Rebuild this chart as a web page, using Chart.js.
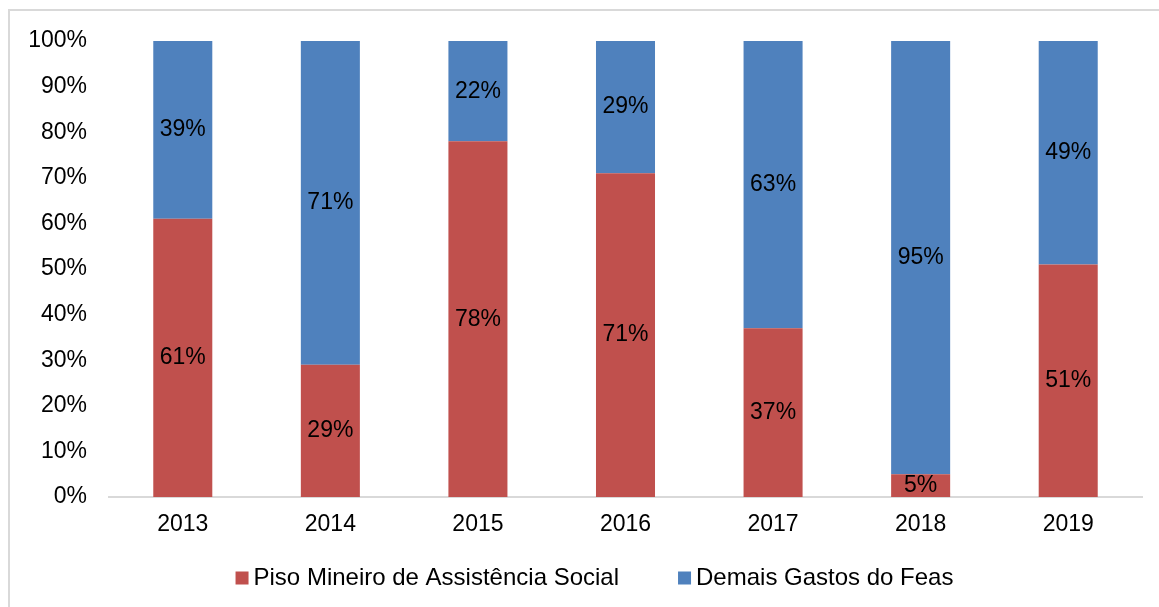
<!DOCTYPE html>
<html><head><meta charset="utf-8">
<script src="https://cdn.jsdelivr.net/npm/chart.js@4/dist/chart.umd.min.js"></script>
<style>html,body{margin:0;padding:0;background:#fff}#wrap{width:1159px;height:607px}</style>
</head><body><div id="wrap"><canvas id="c" width="1159" height="607"></canvas></div>
<script>
const categories = ['2013','2014','2015','2016','2017','2018','2019'];
const pisoMineiro = [61,29,78,71,37,5,51];
const demaisGastos = [39,71,22,29,63,95,49];
const yTicks = [0,10,20,30,40,50,60,70,80,90,100];
const seriesNames = ['Piso Mineiro de Assistência Social','Demais Gastos do Feas'];

const FONT = '"Liberation Sans", Arial, sans-serif';
const FS = 23;
const LFS = 24;

const framePlugin = {
  id:'frame',
  beforeDraw(chart){
    const ctx = chart.ctx;
    ctx.save();
    ctx.fillStyle = '#fff';
    ctx.fillRect(0,0,chart.width,chart.height);
    ctx.strokeStyle = '#d9d9d9';
    ctx.lineWidth = 2;
    ctx.beginPath();
    ctx.moveTo(9,chart.height); ctx.lineTo(9,10); ctx.lineTo(chart.width,10);
    ctx.stroke();
    ctx.restore();
  }
};

const labelPlugin = {
  id:'segLabels',
  afterDatasetsDraw(chart){
    const ctx = chart.ctx;
    ctx.save();
    ctx.font = FS + 'px ' + FONT;
    ctx.fillStyle = '#000';
    ctx.textAlign = 'center';
    ctx.textBaseline = 'middle';
    chart.data.datasets.forEach((ds, di) => {
      const meta = chart.getDatasetMeta(di);
      meta.data.forEach((bar, i) => {
        const y = (bar.y + bar.base) / 2;
        ctx.fillText(ds.data[i] + '%', bar.x, y);
      });
    });
    ctx.restore();
  }
};

const legendPlugin = {
  id:'customLegend',
  afterDraw(chart){
    const ctx = chart.ctx;
    ctx.save();
    ctx.font = LFS + 'px ' + FONT;
    ctx.textBaseline = 'middle';
    ctx.textAlign = 'left';
    const box = 13, gap = 5, itemGap = 59;
    const items = chart.data.datasets.map(ds => ({text: ds.label, color: ds.backgroundColor, w: box + gap + ctx.measureText(ds.label).width}));
    const total = items.reduce((a,b)=>a+b.w,0) + itemGap*(items.length-1);
    let x = (chart.width + 30)/2 - total/2;
    const y = chart.chartArea.bottom + 81;
    items.forEach(it => {
      ctx.fillStyle = it.color;
      ctx.fillRect(x, y - box/2, box, box);
      ctx.fillStyle = '#000';
      ctx.fillText(it.text, x + box + gap, y);
      x += it.w + itemGap;
    });
    ctx.restore();
  }
};

new Chart(document.getElementById('c'), {
  type:'bar',
  data:{
    labels: categories,
    datasets:[
      {label: seriesNames[0], data: pisoMineiro, backgroundColor:'#C0504D', barPercentage:0.4, categoryPercentage:1},
      {label: seriesNames[1], data: demaisGastos, backgroundColor:'#4F81BD', barPercentage:0.4, categoryPercentage:1}
    ]
  },
  options:{
    responsive:false,
    animation:false,
    layout:{padding:{left:20,right:17,top:41,bottom:50}},
    plugins:{
      tooltip:{enabled:false},
      legend:{display:false}
    },
    scales:{
      x:{
        stacked:true,
        grid:{display:false, drawTicks:false},
        border:{display:true,color:'#d9d9d9',width:2},
        ticks:{font:{size:FS,family:FONT},color:'#000',padding:14},
        afterFit(s){ s.height = 60; }
      },
      y:{
        stacked:true,
        min:0,max:100,
        afterBuildTicks(s){ s.ticks = yTicks.map(v=>({value:v})); },
        grid:{display:false, drawTicks:false},
        border:{display:false},
        ticks:{font:{size:FS,family:FONT},color:'#000',padding:22,callback:v=>v+'%'},
        afterFit(s){ s.width = 89; }
      }
    }
  },
  plugins:[framePlugin,labelPlugin,legendPlugin]
});
</script></body></html>
